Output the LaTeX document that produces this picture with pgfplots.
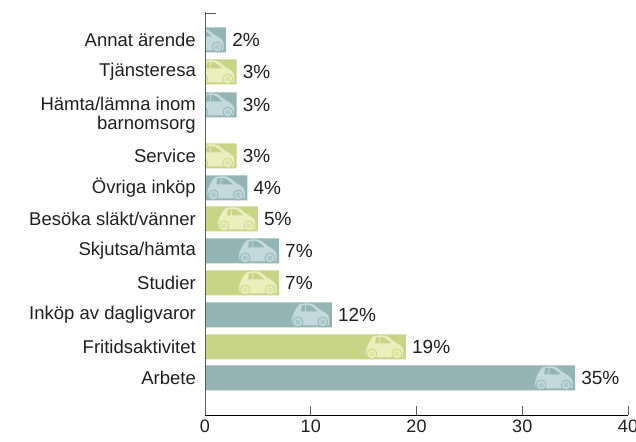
\documentclass[border=0pt]{standalone}
\usepackage{pgfplots}
\pgfplotsset{compat=1.18}
\usepackage{fontspec}
\setmainfont{Liberation Sans}
\definecolor{barT}{HTML}{94B5B4}
\definecolor{barG}{HTML}{C8D587}
\definecolor{carT}{HTML}{C3DADD}
\definecolor{carG}{HTML}{EAF0BD}
\definecolor{midT}{HTML}{ABC8CA}
\definecolor{midG}{HTML}{DCE5A5}
\def\PP#1#2{\pgfqpoint{#1pt}{#2pt}}
% #1 body colour, #2 bar colour, #3 mid colour
\def\carmark#1#2#3{%
  \pgfscope
  \pgftransformshift{\PP{-40.5}{-12}}%
  \pgfsetfillcolor{#1}%
  \pgfpathmoveto{\PP{1.5}{2.5}}%
  \pgfpathcurveto{\PP{0}{6}}{\PP{0}{9}}{\PP{1.5}{12}}%
  \pgfpathcurveto{\PP{3.5}{16}}{\PP{5}{20}}{\PP{8}{22.5}}%
  \pgfpathcurveto{\PP{12}{24}}{\PP{19}{24.5}}{\PP{23}{22}}%
  \pgfpathcurveto{\PP{25.5}{20}}{\PP{27.5}{18}}{\PP{30}{16.5}}%
  \pgfpathcurveto{\PP{34}{14.5}}{\PP{38}{12}}{\PP{38}{8}}%
  \pgfpathlineto{\PP{38}{3}}%
  \pgfpathcurveto{\PP{38}{2}}{\PP{37}{1.5}}{\PP{36}{1.5}}%
  \pgfpathlineto{\PP{3}{1.5}}%
  \pgfpathclose\pgfusepathqfill
  \pgfsetfillcolor{#2}%
  \pgfpathcircle{\PP{6.5}{5}}{5.4pt}\pgfusepathqfill
  \pgfpathcircle{\PP{31.5}{5}}{5.4pt}\pgfusepathqfill
  \pgfsetfillcolor{#1}%
  \pgfpathcircle{\PP{6.5}{5}}{4.4pt}\pgfusepathqfill
  \pgfpathcircle{\PP{31.5}{5}}{4.4pt}\pgfusepathqfill
  \pgfsetfillcolor{#3}%
  \pgfpathcircle{\PP{6.5}{5}}{2.6pt}\pgfusepathqfill
  \pgfpathcircle{\PP{31.5}{5}}{2.6pt}\pgfusepathqfill
  \pgfsetfillcolor{#2}%
  \pgfpathmoveto{\PP{9.5}{15.5}}\pgfpathlineto{\PP{10.5}{21.5}}\pgfpathlineto{\PP{14}{22}}\pgfpathlineto{\PP{13.5}{15.5}}\pgfpathclose\pgfusepathqfill
  \pgfpathmoveto{\PP{14.5}{15.5}}\pgfpathlineto{\PP{15}{22}}\pgfpathcurveto{\PP{19}{22.5}}{\PP{22.5}{19}}{\PP{26}{15.5}}\pgfpathclose\pgfusepathqfill
  \endpgfscope}
\pgfdeclareplotmark{carteal}{\carmark{carT}{barT}{midT}}
\pgfdeclareplotmark{cargreen}{\carmark{carG}{barG}{midG}}
\begin{document}
\begin{tikzpicture}[x=1pt,y=1pt]
\path[use as bounding box] (0,0) rectangle (636,441);
\begin{axis}[
  at={(205pt,26pt)},anchor=south west,
  scale only axis,width=423pt,height=402.5pt,
  xmin=0,xmax=40,ymin=-415,ymax=-12.5,
  axis on top,
  clip marker paths=true,
  separate axis lines,
  axis x line*=bottom,axis y line*=left,
  x axis line style={black,line width=0.9pt,-},
  y axis line style={black!65,line width=1pt,-},
  xtick={0,10,20,30,40},
  xtick align=inside,
  xtick style={black!65,line width=0.8pt},
  major tick length=9pt,
  ytick={-40,-72,-115,-156,-188,-219,-251,-283,-315,-347,-378},
  yticklabels={Annat ärende,Tjänsteresa,{Hämta/lämna inom\\barnomsorg},Service,Övriga inköp,Besöka släkt/vänner,Skjutsa/hämta,Studier,Inköp av dagligvaror,Fritidsaktivitet,Arbete},
  ytick style={draw=none},
  yticklabel style={align=right,font=\fontsize{18.5}{19.5}\selectfont,text=black!88,inner sep=0pt,xshift=-9pt},
  xticklabel style={font=\fontsize{18}{20}\selectfont,text=black!88,yshift=-1pt},
  /pgf/number format/assume math mode=true,
  nodes near coords={\pgfmathprintnumber{\pgfplotspointmeta}\%},
  every node near coord/.append style={font=\fontsize{19}{20}\selectfont,text=black!88,anchor=west,inner sep=0pt,xshift=6pt},
  point meta=x,
]
\addplot[xbar,bar width=25pt,bar shift=0pt,fill=barT,draw=none] coordinates {(2,-40)(3,-105)(4,-188)(7,-251)(12,-315)(35,-378)};
\addplot[xbar,bar width=25pt,bar shift=0pt,fill=barG,draw=none] coordinates {(3,-72)(3,-156)(5,-219)(7,-283)(19,-347)};
\addplot[only marks,mark=carteal,nodes near coords={}] coordinates {(2,-40)(3,-105)(4,-188)(7,-251)(12,-315)(35,-378)};
\addplot[only marks,mark=cargreen,nodes near coords={}] coordinates {(3,-72)(3,-156)(5,-219)(7,-283)(19,-347)};
\addplot[black!65,line width=0.8pt,nodes near coords={},forget plot] coordinates {(0,-13)(1.04,-13)};
\end{axis}
\end{tikzpicture}
\end{document}
